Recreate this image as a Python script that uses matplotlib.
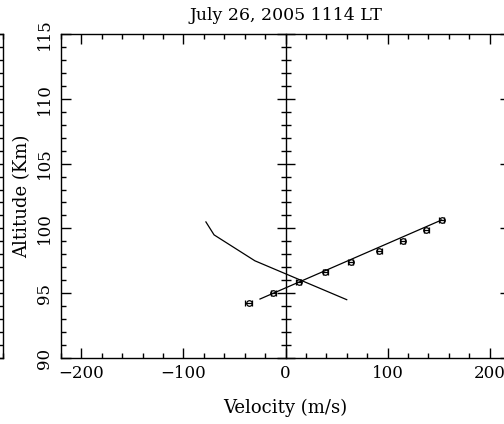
import numpy as np
import matplotlib
matplotlib.use('Agg')
import matplotlib.pyplot as plt
from matplotlib.ticker import MultipleLocator

# measured drift points (velocity m/s, altitude km, error m/s)
obs_vel = [-36, -12, 13, 39, 64, 92, 115, 138, 153]
obs_alt = [94.25, 95.0, 95.9, 96.6, 97.4, 98.25, 99.0, 99.9, 100.65]
obs_err = [3.5, 2.5, 2.5, 2.5, 2.5, 2.5, 2.5, 2.5, 2.5]

# straight fit through the points
fit_vel = [-25, 153]
fit_alt = [94.55, 100.65]

# model wind profile
mod_vel = [-78, -70, -30, 60]
mod_alt = [100.5, 99.5, 97.5, 94.5]

title = 'July 26, 2005 1114 LT'
xlim = (-220, 220)
ylim = (90, 115)

plt.rcParams['font.family'] = 'DejaVu Serif'
plt.rcParams['axes.unicode_minus'] = True

W, H = 504, 424
fig = plt.figure(figsize=(W / 100, H / 100), dpi=100)
pos = [61 / W, 66 / H, 449 / W, 324 / H]

def style_ticks(a):
    a.xaxis.set_major_locator(MultipleLocator(100))
    a.xaxis.set_minor_locator(MultipleLocator(20))
    a.yaxis.set_major_locator(MultipleLocator(5))
    a.yaxis.set_minor_locator(MultipleLocator(1))
    a.tick_params(which='both', direction='in', top=True, right=True, width=1.0)
    a.tick_params(which='major', length=7)
    a.tick_params(which='minor', length=3.5)
    for s in a.spines.values():
        s.set_linewidth(1.0)

# neighbouring panel, only its right edge shows
axl = fig.add_axes([3 / W - pos[2], pos[1], pos[2], pos[3]])
axl.set_xlim(*xlim)
axl.set_ylim(*ylim)
style_ticks(axl)
axl.tick_params(which='both', labelbottom=False, labelleft=False)

ax = fig.add_axes(pos)
ax.set_xlim(*xlim)
ax.set_ylim(*ylim)
style_ticks(ax)
ax.tick_params(axis='x', labelsize=12, pad=5)
ax.tick_params(axis='y', labelsize=12, pad=6)
for t in ax.get_yticklabels():
    t.set_rotation(90)
    t.set_va('center')

ax.plot(mod_vel, mod_alt, color='black', lw=0.9)
ax.plot(fit_vel, fit_alt, color='black', lw=0.9)
ax.errorbar(obs_vel, obs_alt, xerr=obs_err, fmt='o', mfc='none', mec='black',
            ecolor='black', ms=4, mew=0.9, elinewidth=0.9, capsize=2.2, capthick=0.9)

ax.set_title(title, fontsize=12.5, pad=10)
ax.set_xlabel('Velocity (m/s)', fontsize=13, labelpad=12)
ax.set_ylabel('Altitude (Km)', fontsize=13, labelpad=3)

# vertical zero axis with crossing ticks
az = fig.add_axes(pos)
az.set_xlim(*xlim)
az.set_ylim(*ylim)
az.patch.set_visible(False)
for k in ['top', 'bottom', 'right']:
    az.spines[k].set_visible(False)
az.spines['left'].set_position(('data', 0))
az.spines['left'].set_linewidth(1.0)
az.xaxis.set_visible(False)
az.yaxis.set_major_locator(MultipleLocator(5))
az.yaxis.set_minor_locator(MultipleLocator(1))
az.tick_params(axis='y', which='both', direction='inout', labelleft=False,
               left=True, right=False, width=1.0)
az.tick_params(axis='y', which='major', length=13)
az.tick_params(axis='y', which='minor', length=7)

fig.savefig('out.png', dpi=100)
